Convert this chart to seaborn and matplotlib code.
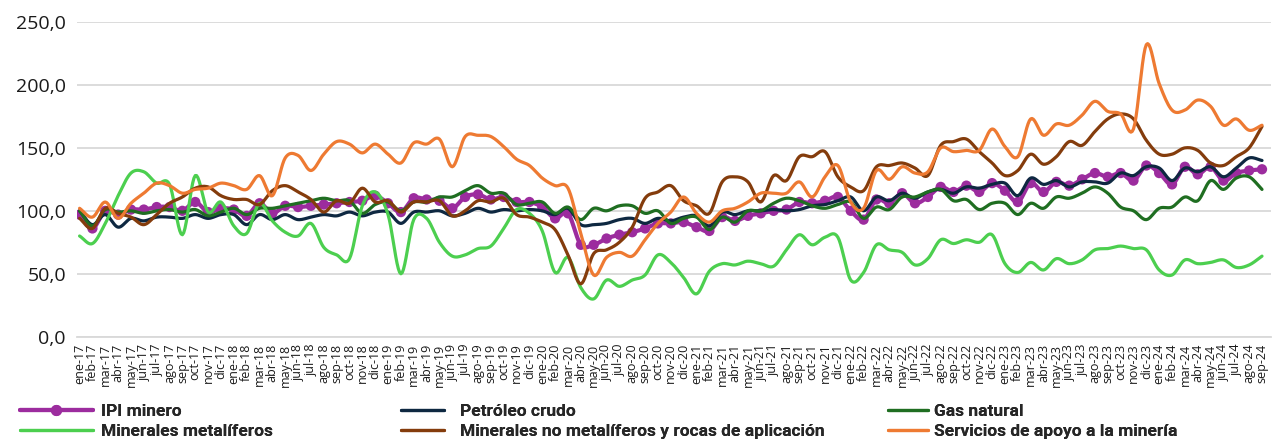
import numpy as np
import pandas as pd
import matplotlib
matplotlib.use("Agg")
import matplotlib.pyplot as plt
import seaborn as sns
from matplotlib import font_manager as fm
from matplotlib.lines import Line2D

# ---------------- data ----------------
MESES = ["ene", "feb", "mar", "abr", "may", "jun", "jul", "ago", "sep", "oct", "nov", "dic"]
ANIOS = ["17", "18", "19", "20", "21", "22", "23", "24"]
N_MESES = 93
etiquetas = [f"{m}-{a}" for a in ANIOS for m in MESES][:N_MESES]

ipi_minero = [97, 86, 100, 97, 101, 101, 103, 103, 100, 107, 99, 102,
              101, 96, 106, 98, 104, 103, 104, 105, 106, 107, 108, 112,
              106, 99, 110, 109, 108, 102, 111, 113, 109, 111, 107, 107,
              103, 94, 98, 73, 73, 78, 81, 83, 86, 90, 90, 91,
              87, 84, 95, 92, 96, 98, 100, 101, 107, 106, 108, 111,
              100, 93, 109, 106, 114, 106, 111, 119, 115, 120, 115, 122,
              116, 107, 122, 115, 123, 120, 125, 130, 127, 130, 124, 136,
              130, 121, 135, 129, 135, 124, 130, 132, 133]

petroleo_crudo = [100, 89, 97, 87, 94, 92, 95, 95, 94, 97, 94, 97,
                  97, 89, 97, 93, 97, 93, 95, 97, 96, 99, 96, 99,
                  99, 90, 99, 99, 100, 96, 98, 102, 99, 101, 100, 101,
                  100, 97, 102, 89, 89, 90, 93, 94, 90, 94, 92, 95,
                  96, 88, 99, 97, 100, 100, 101, 100, 101, 104, 105, 108,
                  111, 100, 111, 108, 114, 110, 115, 117, 114, 119, 118, 121,
                  122, 112, 126, 121, 124, 119, 123, 123, 122, 130, 128, 135,
                  134, 124, 134, 131, 135, 127, 134, 142, 140]

gas_natural = [100, 88, 101, 99, 100, 98, 100, 101, 99, 101, 96, 99,
               102, 97, 102, 102, 104, 106, 108, 110, 108, 108, 98, 105,
               107, 100, 107, 107, 111, 111, 116, 120, 114, 114, 105, 106,
               107, 98, 103, 93, 102, 100, 104, 104, 98, 100, 90, 94,
               95, 85, 95, 91, 100, 100, 106, 110, 108, 104, 102, 105,
               107, 94, 103, 101, 111, 111, 115, 117, 108, 109, 101, 106,
               106, 97, 106, 102, 111, 110, 114, 119, 114, 103, 100, 93,
               102, 103, 111, 108, 124, 117, 126, 127, 117]

minerales_metaliferos = [80, 74, 90, 112, 130, 131, 122, 121, 81, 128, 99, 107,
                         88, 82, 106, 92, 83, 80, 90, 71, 65, 62, 104, 115,
                         97, 50, 93, 94, 75, 64, 65, 70, 72, 86, 101, 98,
                         84, 51, 63, 39, 30, 45, 40, 45, 49, 65, 59, 47,
                         34, 52, 58, 57, 60, 58, 56, 69, 81, 73, 79, 79,
                         45, 51, 73, 69, 67, 57, 62, 77, 74, 77, 75, 81,
                         58, 51, 59, 53, 62, 58, 61, 69, 70, 72, 70, 69,
                         53, 49, 61, 58, 59, 61, 55, 57, 64]

minerales_no_metaliferos = [94, 86, 102, 98, 95, 89, 97, 106, 111, 118, 119, 112,
                            109, 109, 105, 116, 120, 115, 109, 99, 108, 106, 118, 107,
                            108, 99, 107, 107, 108, 96, 100, 108, 107, 110, 97, 95,
                            91, 85, 65, 42, 66, 69, 75, 87, 110, 115, 120, 108,
                            104, 98, 123, 127, 123, 107, 128, 124, 143, 143, 147, 127,
                            119, 116, 135, 136, 138, 134, 128, 152, 155, 157, 147, 138,
                            128, 132, 145, 137, 143, 155, 152, 163, 173, 177, 173, 156,
                            145, 145, 150, 148, 138, 136, 143, 150, 167]

servicios_apoyo = [102, 95, 107, 94, 106, 114, 122, 120, 114, 117, 118, 122,
                   120, 117, 128, 112, 142, 144, 132, 145, 155, 153, 146, 153,
                   145, 138, 154, 153, 157, 135, 159, 160, 159, 151, 141, 136,
                   126, 120, 118, 82, 49, 63, 67, 64, 77, 90, 99, 111,
                   98, 91, 100, 102, 107, 114, 114, 114, 123, 111, 127, 136,
                   107, 102, 132, 125, 135, 130, 131, 150, 147, 148, 148, 165,
                   151, 143, 173, 160, 169, 168, 176, 187, 179, 177, 165, 232,
                   201, 180, 180, 188, 183, 168, 173, 164, 168]

nombres = ["IPI minero", "Petróleo crudo", "Gas natural",
           "Minerales metalíferos", "Minerales no metalíferos y rocas de aplicación",
           "Servicios de apoyo a la minería"]
valores = [ipi_minero, petroleo_crudo, gas_natural,
           minerales_metaliferos, minerales_no_metaliferos, servicios_apoyo]
colores = ["#9C2C9E", "#0E2841", "#1F6E21", "#4CCF4F", "#843C0C", "#EE7A32"]
grosores = [3.0, 2.3, 2.3, 2.3, 2.3, 2.3]

# ---------------- fonts ----------------
disponibles = {f.name for f in fm.fontManager.ttflist}
fuente_ejes = "Open Sans" if "Open Sans" in disponibles else "DejaVu Sans"
fuente_leyenda = "Roboto" if "Roboto" in disponibles else "DejaVu Sans"


def suavizar(y, n=10):
    """Catmull-Rom curve through the points (Excel 'smoothed line' look)."""
    y = np.asarray(y, float)
    P = np.concatenate([[2 * y[0] - y[1]], y, [2 * y[-1] - y[-2]]])
    t = np.linspace(0, 1, n, endpoint=False)
    xs, ys = [], []
    for i in range(1, len(P) - 2):
        p0, p1, p2, p3 = P[i - 1:i + 3]
        yy = 0.5 * (2 * p1 + (-p0 + p2) * t + (2 * p0 - 5 * p1 + 4 * p2 - p3) * t ** 2
                    + (-p0 + 3 * p1 - 3 * p2 + p3) * t ** 3)
        xs.extend((i - 1) + t)
        ys.extend(yy)
    xs.append(len(y) - 1)
    ys.append(y[-1])
    return np.array(xs), np.array(ys)


sns.set_theme(style="white")
plt.rcParams["font.family"] = [fuente_ejes, "DejaVu Sans"]

fig = plt.figure(figsize=(12.81, 4.41), dpi=100)
ax = fig.add_axes([77 / 1281, 1 - 336.7 / 441, (1271 - 77) / 1281, (336.7 - 22) / 441])

for nombre, vals, col, lw in zip(nombres, valores, colores, grosores):
    xs, ys = suavizar(vals)
    df = pd.DataFrame({"x": xs, "y": ys})
    sns.lineplot(data=df, x="x", y="y", ax=ax, color=col, linewidth=lw,
                 sort=False, estimator=None, legend=False)
    if nombre == "IPI minero":
        dfp = pd.DataFrame({"x": np.arange(len(vals)), "y": vals})
        sns.scatterplot(data=dfp, x="x", y="y", ax=ax, color=col, s=55,
                        edgecolor="none", legend=False, zorder=2)

ax.set_xlim(-0.2, 92.7)
ax.set_ylim(0, 250)
ticks_y = np.arange(0, 251, 50)
ax.set_yticks(ticks_y)
ax.set_yticklabels([f"{v:.1f}".replace(".", ",") for v in ticks_y],
                   fontsize=14, color="#1a1a1a")
ax.set_xticks(np.arange(N_MESES))
ax.set_xticklabels(etiquetas, rotation=90, fontsize=9, color="#1a1a1a")
ax.set_xlabel("")
ax.set_ylabel("")
ax.grid(axis="y", color="#D9D9D9", linewidth=1.3)
ax.grid(axis="x", visible=False)
for s in ["top", "right", "left"]:
    ax.spines[s].set_visible(False)
ax.spines["bottom"].set_color("#D9D9D9")
ax.spines["bottom"].set_linewidth(1.3)
ax.tick_params(axis="x", length=4, width=1, color="#D9D9D9", pad=1)
ax.tick_params(axis="y", length=0, pad=8)


# ---------------- legend (three columns, two rows) ----------------
def handle(i):
    if i == 0:
        return Line2D([], [], color=colores[0], lw=grosores[0], marker="o", markersize=7)
    return Line2D([], [], color=colores[i], lw=grosores[i])


FS = 12.5
col_def = [
    (20, [0, 3], 4.2, 0.45),
    (401, [1, 4], 2.5, 0.9),
    (888, [2, 5], 2.3, 0.35),
]
for x0, idx, hl, hp in col_def:
    leg = fig.legend([handle(i) for i in idx], [nombres[i] for i in idx],
                     loc="upper left", bbox_to_anchor=(x0 / 1281, 1 - 404 / 441),
                     frameon=False, ncol=1, borderpad=0, borderaxespad=0,
                     handlelength=hl, handletextpad=hp, labelspacing=0.25,
                     prop={"family": fuente_leyenda, "weight": "bold", "size": FS})
    fig.add_artist(leg)

fig.savefig("out.png", dpi=100)
